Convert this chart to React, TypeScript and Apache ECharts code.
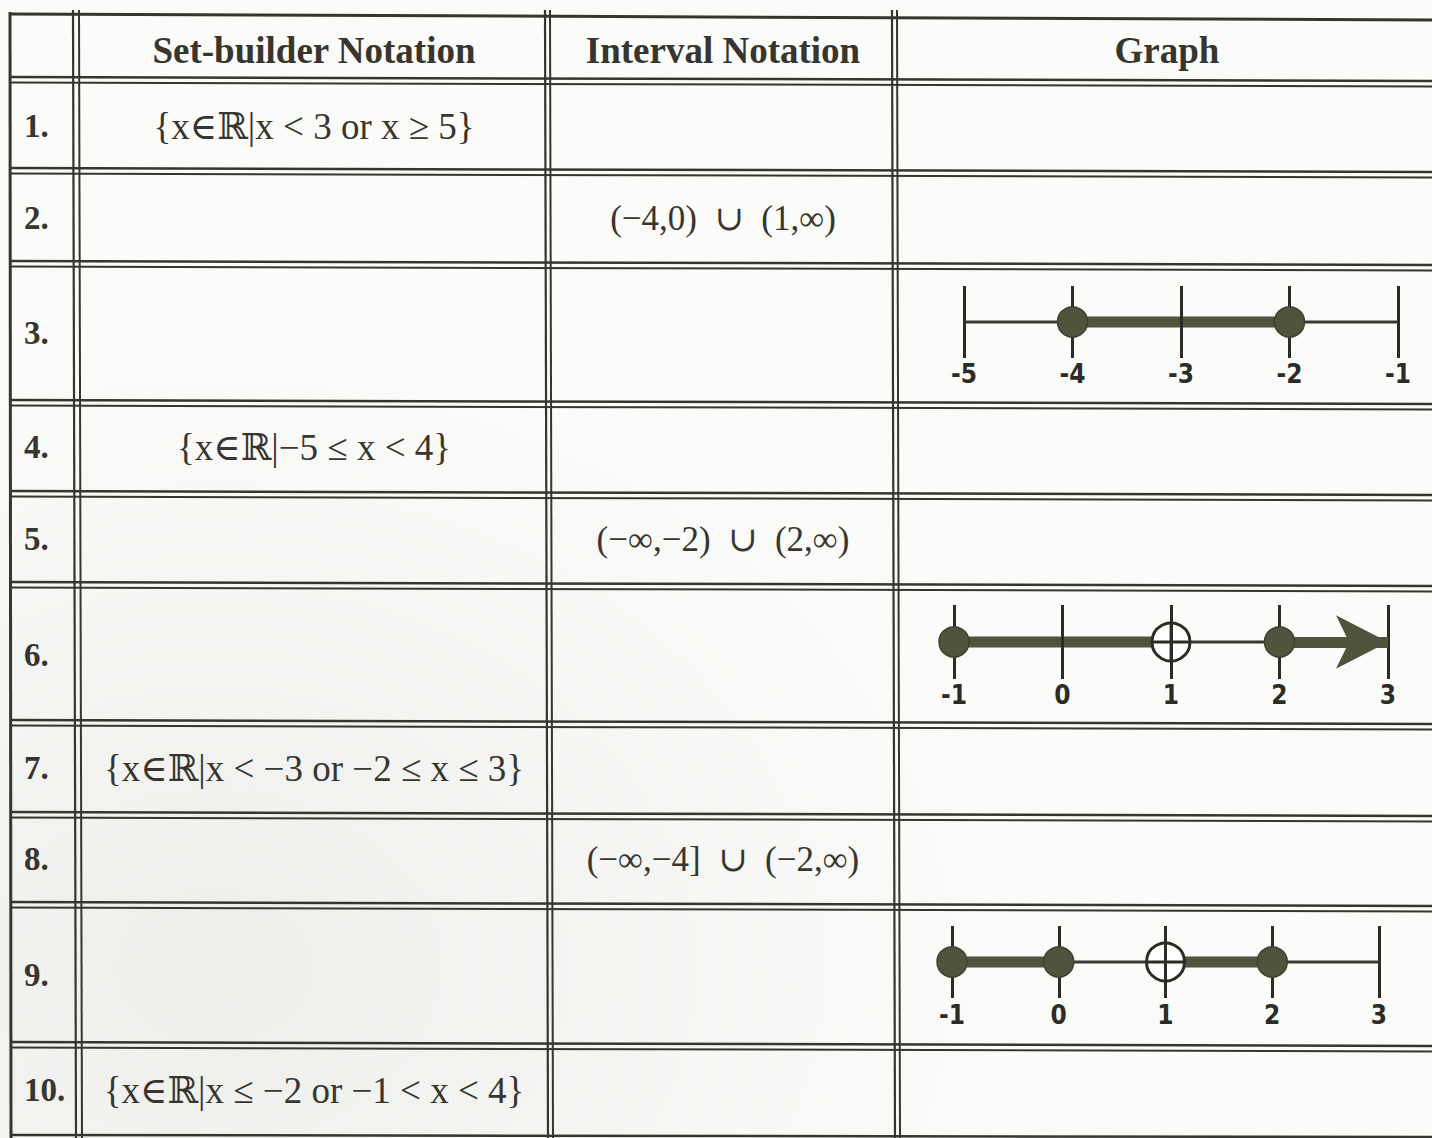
import React, { useEffect, useRef } from 'react';
import * as echarts from 'echarts';

// ---------- content ----------
const headers = ['Set-builder Notation', 'Interval Notation', 'Graph'];
const rowLabels = ['1.', '2.', '3.', '4.', '5.', '6.', '7.', '8.', '9.', '10.'];
const setBuilderTexts = [
  '{x∈ℝ|x < 3 or x ≥ 5}',
  '',
  '',
  '{x∈ℝ|−5 ≤ x < 4}',
  '',
  '',
  '{x∈ℝ|x < −3 or −2 ≤ x ≤ 3}',
  '',
  '',
  '{x∈ℝ|x ≤ −2 or −1 < x < 4}',
];
const intervalTexts = ['', '(−4,0)  ∪  (1,∞)', '', '', '(−∞,−2)  ∪  (2,∞)', '', '', '(−∞,−4]  ∪  (−2,∞)', '', ''];

// ---------- number line data ----------
const graph3Range = [-5, -1];
const graph3Axis = [-5, -0.92];
const graph3Segments = [[-4, -2]];
const graph3Ray: number[] = [];
const graph3Closed = [-4, -2];
const graph3Open: number[] = [];

const graph6Range = [-1, 3];
const graph6Axis = [-1.2, 3.08];
const graph6Segments = [[-1, 1]];
const graph6Ray = [2, 3];
const graph6Closed = [-1, 2];
const graph6Open = [1];

const graph9Range = [-1, 3];
const graph9Axis = [-1.2, 3.15];
const graph9Segments = [[-1, 0], [1, 2]];
const graph9Ray: number[] = [];
const graph9Closed = [-1, 0, 2];
const graph9Open = [1];

const graphs = [
  { range: graph3Range, axis: graph3Axis, segments: graph3Segments, ray: graph3Ray, closed: graph3Closed, open: graph3Open },
  { range: graph6Range, axis: graph6Axis, segments: graph6Segments, ray: graph6Ray, closed: graph6Closed, open: graph6Open },
  { range: graph9Range, axis: graph9Axis, segments: graph9Segments, ray: graph9Ray, closed: graph9Closed, open: graph9Open },
];

// ---------- layout ----------
const W = 1432;
const H = 1138;
const LEFT = 10;
const rowBounds = [77, 168, 261, 400, 491, 582, 720, 812, 902, 1042];
const rowCenters = [126, 218, 333, 447, 539, 655, 768, 859, 975, 1090];
const colPairs = [[75, 81], [547, 552], [894, 899]];
const colCenters = [314, 723, 1167];
const graphGrids = [
  { left: 964, right: W - 1398, top: 286, height: 72, margin: 3 },
  { left: 954, right: W - 1388, top: 605, height: 74, margin: 3 },
  { left: 952, right: W - 1379, top: 926, height: 72, margin: 4 },
];

const INK = '#36362f';
const FILL = '#50543d';
const SERIF = '"Liberation Serif", "Times New Roman", "DejaVu Serif", serif';
const NARROW = '"Liberation Sans Narrow", "Arial Narrow", "DejaVu Sans Condensed", sans-serif';
const CROSS = 'path://M18.5,0h3v18.5h18.5v3h-18.5v18.5h-3v-18.5h-18.5v-3h18.5z';

function buildGraphics() {
  const els: any[] = [];
  els.push({
    type: 'rect', z: -10, shape: { x: 0, y: 0, width: W, height: H },
    style: { fill: '#fbfbf9' },
  });
  els.push({
    type: 'rect', z: -9, shape: { x: 0, y: 0, width: W, height: H },
    style: {
      fill: new echarts.graphic.RadialGradient(0.15, 0.85, 0.55, [
        { offset: 0, color: 'rgba(120,120,115,0.10)' },
        { offset: 1, color: 'rgba(120,120,115,0)' },
      ]),
    },
  });
  const line = (x1: number, y1: number, x2: number, y2: number, w: number) =>
    els.push({ type: 'line', shape: { x1, y1, x2, y2 }, style: { stroke: INK, lineWidth: w } });
  // outer top / bottom / left
  line(LEFT, 14, W, 20, 3);
  line(LEFT, 1135, W, 1137, 2.5);
  line(LEFT, 12, LEFT + 1, H, 3);
  // horizontal double lines
  rowBounds.forEach((b) => {
    line(LEFT, b, W, b + 4, 2.5);
    line(LEFT, b + 5.5, W, b + 9.5, 2);
  });
  // vertical double lines
  colPairs.forEach(([a, c]) => {
    line(a - 2, 10, a + 1, H, 2.2);
    line(c - 2, 10, c + 1, H, 2);
  });
  // header
  headers.forEach((h, i) => {
    els.push({
      type: 'text',
      style: {
        text: h, x: colCenters[i], y: 50, fill: INK,
        font: `bold 37px ${SERIF}`, align: 'center', verticalAlign: 'middle',
        textAlign: 'center', textVerticalAlign: 'middle',
      },
    });
  });
  rowLabels.forEach((t, i) => {
    els.push({
      type: 'text',
      style: {
        text: t, x: 24, y: rowCenters[i], fill: INK,
        font: `bold 33px ${SERIF}`, align: 'left', verticalAlign: 'middle',
        textAlign: 'left', textVerticalAlign: 'middle',
      },
    });
  });
  setBuilderTexts.forEach((t, i) => {
    if (!t) return;
    els.push({
      type: 'text',
      style: {
        text: t, x: colCenters[0], y: rowCenters[i], fill: INK,
        font: `37px ${SERIF}`, align: 'center', verticalAlign: 'middle',
        textAlign: 'center', textVerticalAlign: 'middle',
      },
    });
  });
  intervalTexts.forEach((t, i) => {
    if (!t) return;
    els.push({
      type: 'text',
      style: {
        text: t, x: colCenters[1], y: rowCenters[i], fill: INK,
        font: `35px ${SERIF}`, align: 'center', verticalAlign: 'middle',
        textAlign: 'center', textVerticalAlign: 'middle',
      },
    });
  });
  return els;
}

function buildOption() {
  const grid: any[] = [];
  const xAxis: any[] = [];
  const yAxis: any[] = [];
  const series: any[] = [];
  graphs.forEach((g, i) => {
    const L = graphGrids[i];
    grid.push({ left: L.left, right: L.right, top: L.top, height: L.height, containLabel: false });
    xAxis.push({
      type: 'value', gridIndex: i, min: g.range[0], max: g.range[1], interval: 1, z: 5,
      axisLine: { show: false }, axisTick: { show: false },
      splitLine: { show: true, lineStyle: { color: '#2c2c27', width: 3 } },
      axisLabel: {
        show: true, margin: L.margin, color: '#2c2c27',
        fontFamily: NARROW, fontWeight: 'bold', fontSize: 26,
        formatter: (v: number) => String(v),
      },
    });
    yAxis.push({ type: 'value', gridIndex: i, min: -1, max: 1, show: false });
    const base = { xAxisIndex: i, yAxisIndex: i, silent: true, animation: false };
    series.push({
      ...base, type: 'line', z: 1, clip: false, symbol: 'none',
      data: g.axis.map((v) => [v, 0]),
      lineStyle: { color: '#3a3a33', width: 3 },
    });
    g.segments.forEach((s) => {
      series.push({
        ...base, type: 'line', z: 2, clip: false, symbol: 'none',
        data: s.map((v) => [v, 0]),
        lineStyle: { color: FILL, width: 11, cap: 'butt' },
      });
    });
    if (g.ray.length) {
      series.push({
        ...base, type: 'line', z: 2, clip: false, symbol: 'none',
        data: g.ray.map((v) => [v, 0]),
        lineStyle: { opacity: 0 },
        markLine: {
          silent: true, animation: false, symbol: ['none', 'arrow'], symbolSize: [40, 52],
          label: { show: false },
          lineStyle: { color: FILL, width: 11, type: 'solid' },
          itemStyle: { color: FILL },
          data: [[{ coord: [g.ray[0], 0] }, { coord: [g.ray[1], 0] }]],
        },
      });
    }
    if (g.open.length) {
      series.push({
        ...base, type: 'scatter', z: 3, symbol: 'circle', symbolSize: 38,
        data: g.open.map((v) => [v, 0]),
        itemStyle: { color: '#ffffff', borderColor: '#2c2c27', borderWidth: 3, opacity: 1 },
      });
      series.push({
        ...base, type: 'scatter', z: 4, symbol: CROSS, symbolSize: 38,
        data: g.open.map((v) => [v, 0]),
        itemStyle: { color: '#2c2c27', opacity: 1 },
      });
    }
    series.push({
      ...base, type: 'scatter', z: 6, symbol: 'circle', symbolSize: 30,
      data: g.closed.map((v) => [v, 0]),
      itemStyle: { color: FILL, borderColor: '#3e4130', borderWidth: 1.5, opacity: 1 },
    });
  });
  return {
    animation: false,
    backgroundColor: 'transparent',
    grid, xAxis, yAxis, series,
    graphic: { elements: buildGraphics() },
  };
}

export default function App() {
  const ref = useRef<HTMLDivElement>(null);
  useEffect(() => {
    if (!ref.current) return;
    const chart = echarts.init(ref.current, undefined, { renderer: 'svg' });
    chart.setOption(buildOption() as any);
    return () => chart.dispose();
  }, []);
  return (
    <div
      ref={ref}
      style={{ position: 'absolute', left: 0, top: 0, width: W, height: H, background: '#fbfbf9' }}
    />
  );
}
